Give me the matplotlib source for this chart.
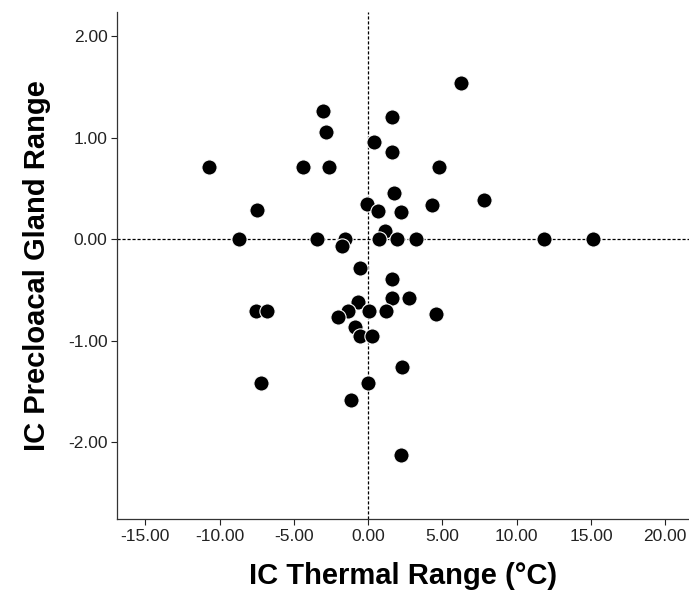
import matplotlib
matplotlib.use("Agg")
import matplotlib.pyplot as plt

plt.rcParams['font.family'] = ['Liberation Sans', 'DejaVu Sans']

# IC thermal range (x) and IC precloacal gland range (y)
thermal = [-10.7, -7.45, -8.67, -4.36, -3.05, -2.81, -2.65, -3.43, -1.59, -1.77,
           -0.09, 0.36, 1.62, 1.62, 1.75, 0.67, 1.14, 0.72, 1.93, 6.22,
           4.78, 2.24, 4.31, 7.77, 3.21, 11.87, 15.13, -0.52, 1.62, 1.62,
           2.76, -0.67, -1.39, 0.09, 1.23, -2.0, 4.56, -0.90, -0.58, 0.29,
           2.27, 0.02, -1.14, 2.18, -7.54, -6.78, -7.2]
gland = [0.715, 0.29, 0.0, 0.715, 1.264, 1.05, 0.715, 0.0, 0.0, -0.066,
         0.345, 0.952, 1.20, 0.853, 0.453, 0.28, 0.08, 0.0, 0.0, 1.537,
         0.715, 0.272, 0.335, 0.384, 0.0, 0.0, 0.0, -0.28, -0.391, -0.578,
         -0.578, -0.62, -0.706, -0.706, -0.706, -0.768, -0.736, -0.867, -0.953, -0.953,
         -1.258, -1.413, -1.583, -2.122, -0.706, -0.706, -1.413]

xticks = [-15, -10, -5, 0, 5, 10, 15, 20]
yticks = [-2, -1, 0, 1, 2]

fig = plt.figure(figsize=(6.89, 6.0), dpi=100)
ax = fig.add_axes([0.170, 0.135, 0.830, 0.845])

# reference lines through zero
ax.axvline(0, color='black', lw=0.9, ls=(0, (2.5, 1.5)), zorder=1)
ax.axhline(0, color='black', lw=0.9, ls=(0, (2.5, 1.5)), zorder=1)

ax.scatter(thermal, gland, s=120, c='black', edgecolors='white', linewidths=0.8, zorder=3)

ax.set_xlim(-16.9, 21.6)
ax.set_ylim(-2.755, 2.236)
ax.set_xticks(xticks)
ax.set_yticks(yticks)
ax.set_xticklabels(['%.2f' % v for v in xticks])
ax.set_yticklabels(['%.2f' % v for v in yticks])

for side in ['top', 'right']:
    ax.spines[side].set_visible(False)
for side in ['left', 'bottom']:
    ax.spines[side].set_color('#333333')
    ax.spines[side].set_linewidth(0.9)

ax.tick_params(direction='out', length=4, width=0.8, labelsize=12.5, pad=3, colors='#222222')

ax.set_xlabel('IC Thermal Range (°C)', fontsize=21, fontweight='bold', labelpad=13)
ax.set_ylabel('IC Precloacal Gland Range', fontsize=21, fontweight='bold', labelpad=12)

fig.savefig('out.png', dpi=100)
